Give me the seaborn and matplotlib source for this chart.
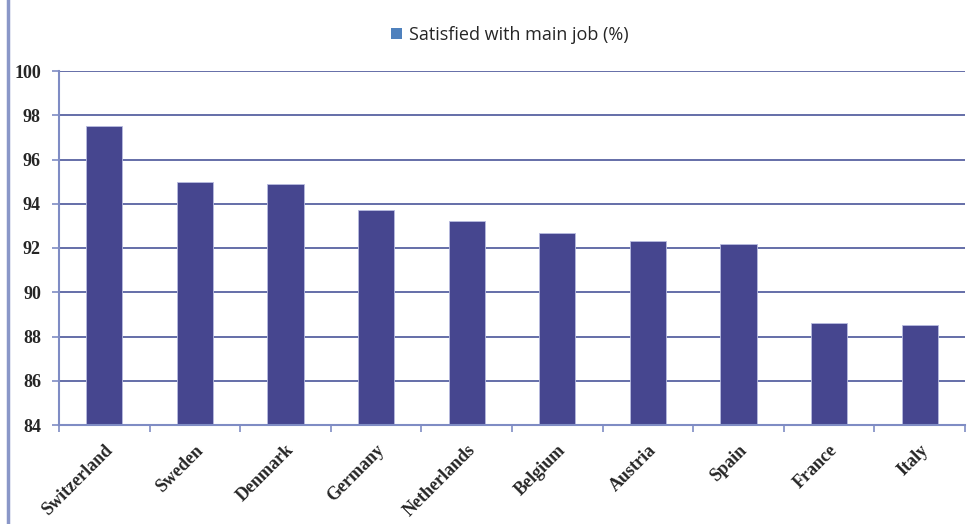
import matplotlib
matplotlib.use("Agg")
import matplotlib.pyplot as plt
import seaborn as sns
import pandas as pd
from matplotlib.patches import Rectangle, Patch

countries = ["Switzerland", "Sweden", "Denmark", "Germany", "Netherlands",
             "Belgium", "Austria", "Spain", "France", "Italy"]
satisfied = [97.5, 95.0, 94.9, 93.7, 93.2, 92.7, 92.3, 92.2, 88.6, 88.5]
series_name = "Satisfied with main job (%)"
yticks = [84, 86, 88, 90, 92, 94, 96, 98, 100]

df = pd.DataFrame({"country": countries, "value": satisfied})

sns.set_theme(style="white")
fig = plt.figure(figsize=(9.72, 5.24), dpi=100)
ax = fig.add_axes([59/972, 1-425/524, (965-59)/972, (425-71)/524])

sns.barplot(data=df, x="country", y="value", color="#46468f", width=0.4,
            ax=ax, saturation=1, edgecolor="#b8bce0", linewidth=0.6)

ax.set_ylim(84, 100)
ax.set_xlim(-0.5, len(countries) - 0.5)
ax.set_yticks(yticks)
ax.set_yticklabels([str(t) for t in yticks], fontfamily="Liberation Serif",
                   fontweight="bold", fontsize=13)
ax.set_xticks(range(len(countries)))
ax.set_xticklabels(countries, rotation=45, ha="right", rotation_mode="anchor",
                   fontfamily="Liberation Serif", fontweight="bold", fontsize=13)
ax.set_xlabel("")
ax.set_ylabel("")

ax.yaxis.grid(True, color="#4a5599", linewidth=1.2)
ax.set_axisbelow(True)
for s in ["top", "right"]:
    ax.spines[s].set_visible(False)
for s in ["left", "bottom"]:
    ax.spines[s].set_color("#7f8cc4")
    ax.spines[s].set_linewidth(1.5)

ax.tick_params(axis="y", which="both", left=True, length=5, color="#7f8cc4",
               width=1.2, pad=8, direction="out")
ax.tick_params(axis="x", which="both", bottom=False, pad=6)
# minor ticks on category boundaries
ax.set_xticks([i - 0.5 for i in range(len(countries) + 1)], minor=True)
ax.tick_params(axis="x", which="minor", bottom=True, length=5, color="#7f8cc4",
               width=1.2, direction="out")

leg = fig.legend(handles=[Patch(facecolor="#4f81bd", edgecolor="none",
                                label=series_name)],
                 loc="center", bbox_to_anchor=(510/972, 1-35/524), frameon=False,
                 prop={"family": "Open Sans", "size": 13}, handlelength=0.6,
                 handleheight=0.6, handletextpad=0.4)

fig.patches.append(Rectangle((8/972, -0.01), 1.0, 1.02, transform=fig.transFigure,
                             fill=False, edgecolor="#8a97c8", linewidth=2.5))

fig.savefig("out.png", dpi=100)
